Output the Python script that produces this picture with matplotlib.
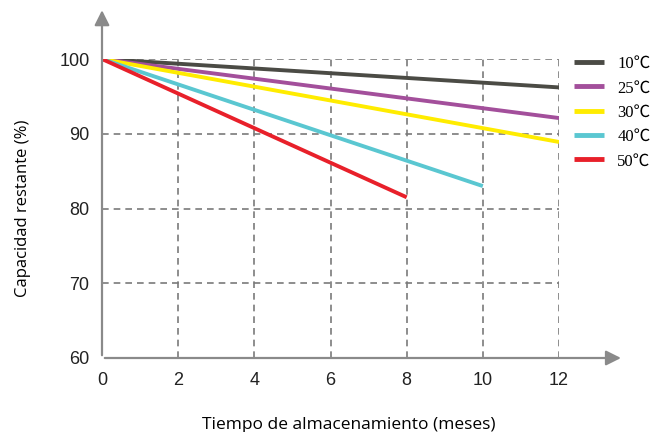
import matplotlib.pyplot as plt

# datos
series = ["10℃", "25℃", "30℃", "40℃", "50℃"]
months_end = [12, 12, 12, 10, 8]
cap_end = [96.2, 92.1, 88.9, 83.0, 81.5]
colors = ["#4b4b45", "#a34f9b", "#ffec00", "#5ac7d1", "#e8202a"]
xticks = [0, 2, 4, 6, 8, 10, 12]
yticks = [60, 70, 80, 90, 100]

fig = plt.figure(figsize=(6.62, 4.32), dpi=100)
ax = fig.add_axes([102 / 662, 74 / 432, 457 / 662, 299 / 432])
ax.set_xlim(0, 12)
ax.set_ylim(60, 100)

# rejilla discontinua
for x in xticks[1:]:
    ax.plot([x, x], [60, 100], ls=(0, (4, 3)), color="#7a7a7a", lw=1.2, zorder=1)
for y in yticks[1:]:
    ax.plot([0, 12], [y, y], ls=(0, (4, 3)), color="#7a7a7a", lw=1.2, zorder=1)

for name, xe, ye, c in zip(series, months_end, cap_end, colors):
    ax.plot([0, xe], [100, ye], color=c, lw=2.8, label=name, zorder=3,
            solid_capstyle="butt")

for s in ax.spines.values():
    s.set_visible(False)

# ejes con flecha
arrow_kw = dict(arrowstyle="-|>,head_length=0.9,head_width=0.45", color="#8a8a8a", lw=1.6)
ax.annotate("", xy=(13.7, 60), xytext=(0, 60), arrowprops=arrow_kw, annotation_clip=False)
ax.annotate("", xy=(0, 106.9), xytext=(0, 60), arrowprops=arrow_kw, annotation_clip=False)

ax.set_xticks(xticks)
ax.set_yticks(yticks)
ax.tick_params(axis="x", length=0, labelsize=13, pad=10)
ax.tick_params(axis="y", length=0, labelsize=13, pad=9)
for lab in ax.get_xticklabels() + ax.get_yticklabels():
    lab.set_family("Liberation Sans")
    lab.set_color("#222222")

ax.set_xlabel("Tiempo de almacenamiento (meses)", fontsize=12.5, family="Open Sans", labelpad=20)
ax.xaxis.label.set_x(0.54)
ax.set_ylabel("Capacidad restante (%)", fontsize=12, family="Open Sans", labelpad=20)

leg = ax.legend(loc="upper left", bbox_to_anchor=(574 / 662, 376 / 432),
                bbox_transform=fig.transFigure, frameon=False, borderpad=0, borderaxespad=0,
                handlelength=1.8, labelspacing=0.5, handletextpad=0.8,
                prop={"family": ["Liberation Serif", "Noto Sans CJK SC"], "size": 12})
for h in leg.legend_handles:
    h.set_linewidth(3.5)

fig.savefig("out.png", dpi=100)
